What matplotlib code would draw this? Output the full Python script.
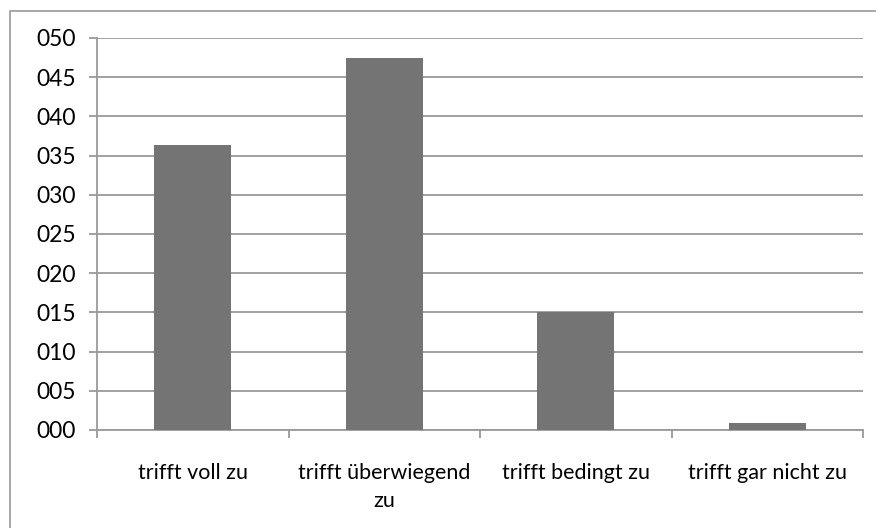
import matplotlib
matplotlib.use('Agg')
import matplotlib.pyplot as plt
from matplotlib.lines import Line2D

# 数据
categories = ['trifft voll zu', 'trifft überwiegend\nzu', 'trifft bedingt zu', 'trifft gar nicht zu']
values = [36.35, 47.45, 15.05, 0.85]
yticks = [0, 5, 10, 15, 20, 25, 30, 35, 40, 45, 50]
ytick_labels = ['%03d' % v for v in yticks]

plt.rcParams['font.family'] = ['Lato', 'DejaVu Sans']
grid_color = '#9a9a9a'

fig = plt.figure(figsize=(8.76, 5.28), dpi=100)
ax = fig.add_axes([97 / 876, 1 - 430 / 528, (863 - 97) / 876, (430 - 38) / 528])

x = list(range(len(categories)))
ax.bar(x, values, width=0.4, color='#747474', zorder=3)

ax.set_xlim(-0.5, len(categories) - 0.5)
ax.set_ylim(0, 50)

# y轴
ax.set_yticks(yticks)
ax.set_yticklabels(ytick_labels, fontsize=16.5)
ax.yaxis.grid(True, color=grid_color, linewidth=1.3, zorder=0)
ax.tick_params(axis='y', direction='out', length=6, width=1.3, color=grid_color, pad=9)

# x轴: 边界刻度 + 类别标签
ax.set_xticks([i - 0.5 for i in range(len(categories) + 1)])
ax.set_xticklabels([])
ax.set_xticks(x, minor=True)
ax.set_xticklabels(categories, minor=True, fontsize=15.5, linespacing=1.5)
ax.tick_params(axis='x', which='major', direction='out', length=6, width=1.3, color=grid_color)
ax.tick_params(axis='x', which='minor', length=0, pad=24)

for side in ['top', 'right']:
    ax.spines[side].set_visible(False)
for side in ['left', 'bottom']:
    ax.spines[side].set_color(grid_color)
    ax.spines[side].set_linewidth(1.3)

# 外框
fx = 10 / 876
fy = 1 - 11 / 528
fig.add_artist(Line2D([fx, fx, 1], [0, fy, fy], transform=fig.transFigure,
                      color='#a0a0a0', linewidth=1.3))

fig.savefig('out.png', dpi=100)
